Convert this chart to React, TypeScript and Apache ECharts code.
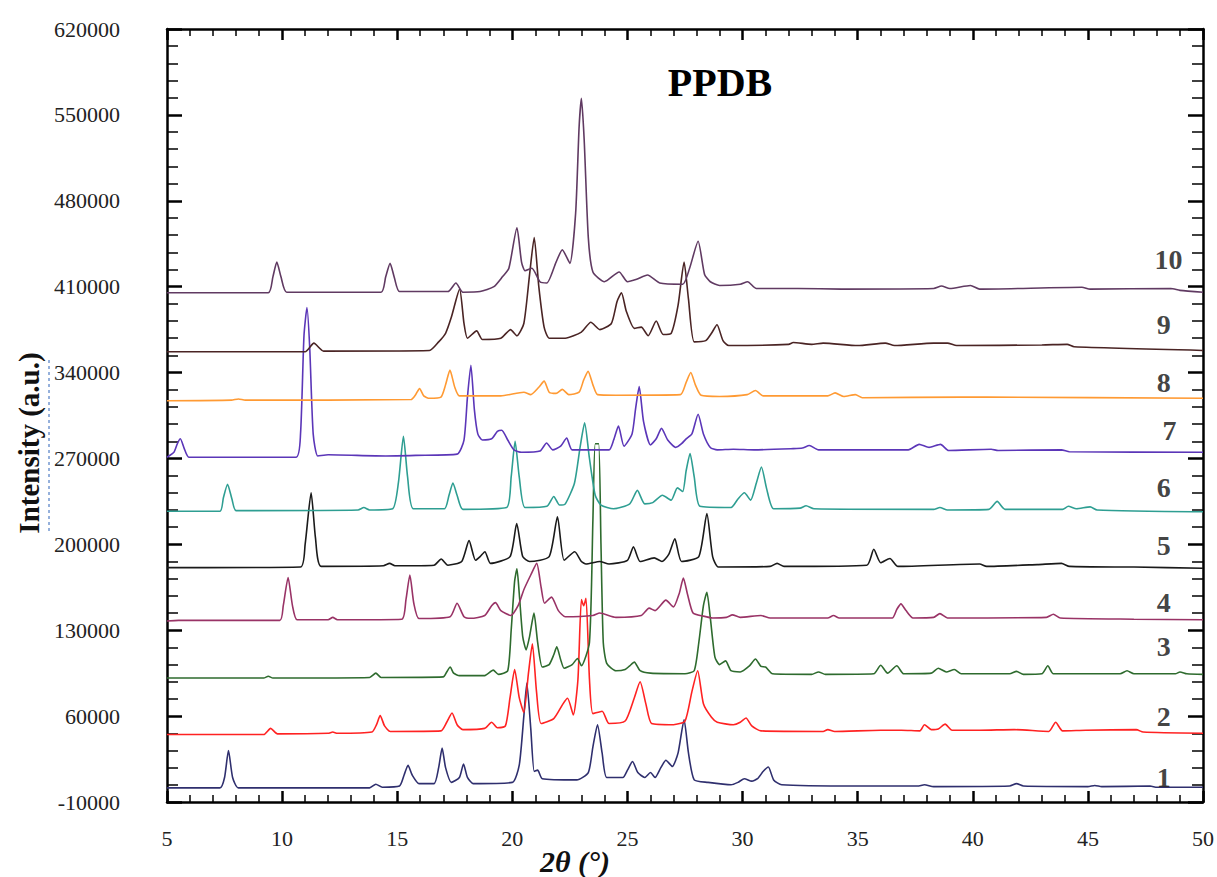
import React, { useEffect, useRef } from "react";
import * as echarts from "echarts";

// 2θ (°), intensity (a.u.) pairs
const pattern1: [number, number][] = [
  [5, 1500], [7.3, 1500], [7.5, 10000], [7.67, 32000], [7.85, 10000], [8.1, 1500],
  [13.8, 1500], [14.07, 4500], [14.35, 2000],
  [15.1, 3000], [15.3, 12000], [15.47, 20000], [15.65, 12000], [15.95, 5000],
  [16.6, 5000], [16.8, 18000], [16.95, 34000], [17.1, 18000], [17.35, 6000], [17.7, 10000], [17.88, 21000], [18.05, 10000], [18.3, 5000],
  [20.0, 6000], [20.3, 20000], [20.5, 60000], [20.63, 87000], [20.8, 50000], [20.95, 15000], [21.1, 16000], [21.3, 9000],
  [22.8, 8000], [23.3, 14000], [23.5, 35000], [23.7, 53000], [23.9, 30000], [24.1, 10000],
  [24.8, 10000], [25.0, 16000], [25.22, 23000], [25.45, 14000], [25.75, 10000], [26.0, 14000], [26.2, 10000], [26.45, 18000], [26.67, 24000], [26.95, 19000], [27.2, 30000], [27.46, 57000], [27.65, 30000], [27.9, 8000],
  [28.5, 6000], [29.5, 4000], [29.8, 6000], [30.08, 9000], [30.4, 7000], [30.65, 9000], [30.9, 15000], [31.12, 18500], [31.35, 8000], [31.7, 4000],
  [35, 3000], [37.6, 3000], [37.9, 4000], [38.3, 2500], [41.6, 3000], [41.9, 5000], [42.2, 3000], [45.0, 2500], [45.3, 3500], [45.6, 2500], [47.7, 3000], [48.0, 2000], [50, 2000],
];

const pattern2: [number, number][] = [
  [5, 45000], [9.2, 45000], [9.5, 50000], [9.8, 45500], [12.0, 46000], [12.2, 47000], [12.4, 46000],
  [13.9, 47000], [14.1, 53000], [14.26, 60500], [14.45, 52000], [14.7, 47500],
  [16.9, 48000], [17.15, 55000], [17.38, 62500], [17.6, 53000], [17.85, 49000],
  [18.8, 50000], [19.1, 55000], [19.35, 50500],
  [19.7, 52000], [19.9, 75000], [20.1, 98000], [20.3, 75000], [20.5, 63000], [20.7, 95000], [20.87, 119000], [21.05, 80000], [21.25, 54000],
  [21.8, 58000], [22.2, 70000], [22.4, 74500], [22.65, 61000], [22.85, 90000], [23.0, 155000], [23.1, 150000], [23.2, 156000], [23.35, 90000], [23.5, 62000], [23.9, 64000], [24.2, 54000],
  [24.9, 56000], [25.3, 75000], [25.55, 88000], [25.8, 70000], [26.05, 54000],
  [27.0, 53000], [27.5, 56000], [27.8, 80000], [28.05, 97000], [28.3, 70000], [28.65, 59000], [28.9, 55000], [29.6, 53000], [29.9, 55000], [30.15, 58500], [30.4, 52000], [30.8, 48000],
  [33.5, 47500], [33.7, 49000], [34.0, 47500], [36.0, 48500], [36.9, 48500], [37.7, 48000], [37.9, 53000], [38.2, 49000], [38.5, 49500], [38.8, 53500], [39.1, 48500], [40.3, 48500], [41.8, 49000], [43.3, 47500], [43.6, 55000], [43.9, 48000], [44.9, 48500], [47.1, 49000], [47.4, 47000], [50, 46000],
];

const pattern3: [number, number][] = [
  [5, 91000], [9.2, 91000], [9.4, 92500], [9.6, 91000], [13.8, 91500], [14.07, 95000], [14.3, 91500],
  [17.0, 92000], [17.15, 96000], [17.3, 100000], [17.45, 95000], [17.7, 93000], [18.8, 93000], [19.17, 97500], [19.4, 94000],
  [19.8, 97000], [19.95, 130000], [20.1, 170000], [20.2, 180000], [20.3, 160000], [20.45, 125000], [20.6, 114000], [20.75, 125000], [20.94, 144000], [21.1, 120000], [21.3, 100000], [21.6, 102000], [21.8, 110000], [21.93, 116500], [22.1, 106000], [22.25, 99000], [22.6, 102000], [22.83, 107000], [23.0, 101000],
  [23.35, 120000], [23.5, 220000], [23.6, 282000], [23.75, 282000], [23.85, 200000], [23.95, 120000], [24.1, 103000], [24.5, 97000], [24.9, 98000], [25.1, 101000], [25.3, 104000], [25.55, 97000], [26, 95000], [27.5, 94500], [27.9, 97000], [28.1, 120000], [28.3, 150000], [28.45, 161000], [28.6, 140000], [28.8, 108000], [29.0, 102000], [29.26, 105000], [29.5, 97000], [29.9, 96000], [30.3, 101000], [30.56, 106500], [30.8, 100500], [31.0, 100000], [31.3, 94500],
  [33.0, 94000], [33.3, 96000], [33.6, 94000], [35.7, 94500], [36.0, 101500], [36.3, 95000], [36.7, 101000], [37.0, 94500], [38.2, 95000], [38.5, 99000], [38.85, 96000], [39.2, 98000], [39.5, 94500], [41.6, 94500], [41.9, 96500], [42.2, 94000], [43.0, 94500], [43.26, 101000], [43.5, 94500], [46.4, 94500], [46.7, 97000], [47.0, 94500], [48.8, 94500], [49.0, 96000], [49.3, 94500], [50, 94000],
];

const pattern4: [number, number][] = [
  [5, 137500], [5.5, 138000], [9.9, 138000], [10.05, 150000], [10.26, 173000], [10.45, 150000], [10.65, 138500], [12.0, 138500], [12.2, 140500], [12.4, 138500],
  [15.2, 139000], [15.38, 155000], [15.55, 175000], [15.72, 152000], [15.95, 139500],
  [17.3, 141000], [17.6, 152000], [17.9, 141000], [18.2, 139700], [18.8, 142000], [19.1, 150000], [19.27, 152500], [19.5, 146000], [19.93, 142000], [20.25, 150000], [20.5, 163000], [20.8, 175000], [21.06, 184500], [21.25, 165000], [21.4, 152000], [21.7, 157000], [22.0, 146000], [22.3, 141000], [23.5, 142000], [23.8, 144000], [24.5, 140500], [25.6, 142000], [25.94, 148000], [26.2, 146000], [26.67, 154500], [27.0, 149000], [27.25, 160000], [27.43, 172500], [27.6, 160000], [27.85, 144000], [28.3, 141500], [28.7, 140000], [29.3, 140500], [29.56, 142500], [29.9, 140500], [30.8, 142000], [31.2, 140000],
  [33.7, 140000], [33.95, 142000], [34.2, 140000], [36.5, 140000], [36.7, 147000], [36.88, 151500], [37.1, 146000], [37.4, 140000], [38.3, 140500], [38.57, 143500], [38.9, 140000], [43.2, 140500], [43.5, 143000], [43.8, 140000], [47, 139000], [50, 138500],
];

const pattern5: [number, number][] = [
  [5, 181000], [10.8, 181500], [11.0, 200000], [11.26, 242000], [11.45, 205000], [11.7, 182000], [14.4, 182500], [14.67, 184500], [14.9, 182500], [16.6, 183000], [16.91, 188000], [17.2, 183000], [17.8, 186000], [18.12, 203000], [18.4, 187000], [18.6, 190000], [18.81, 194000], [19.05, 184500], [19.9, 190000], [20.19, 217000], [20.45, 190000], [20.75, 186000], [21.6, 190000], [21.96, 222500], [22.25, 187000], [22.71, 194000], [23.0, 186000], [23.2, 184000], [23.8, 186000], [24.2, 184000], [25.0, 187000], [25.26, 198000], [25.55, 186000], [26.16, 189000], [26.5, 186000], [26.8, 192000], [27.06, 204500], [27.35, 186000], [28.1, 190000], [28.45, 225000], [28.7, 190000], [28.95, 181500], [31.2, 182000], [31.5, 184500], [31.8, 182000], [35.4, 183000], [35.7, 196000], [36.0, 185000], [36.4, 188500], [36.75, 182000], [40.3, 184000], [40.6, 182000], [42.8, 183500], [43.85, 184500], [44.2, 182000], [47, 181500], [50, 180500],
];

const pattern6: [number, number][] = [
  [5, 227000], [7.3, 227000], [7.45, 238000], [7.63, 249000], [7.82, 237000], [8.0, 227500], [13.3, 228000], [13.55, 230000], [13.8, 228000], [14.8, 229000], [15.05, 250000], [15.27, 288000], [15.45, 255000], [15.7, 229000], [17.05, 229000], [17.25, 240000], [17.42, 250000], [17.6, 240000], [17.85, 228500], [19.75, 230000], [19.95, 255000], [20.12, 284000], [20.3, 255000], [20.55, 230000], [21.5, 231000], [21.8, 239000], [22.05, 232000], [22.3, 233000], [22.7, 250000], [22.95, 280000], [23.14, 299000], [23.35, 270000], [23.6, 240000], [23.85, 232000], [24.4, 229000], [25.1, 233000], [25.43, 244000], [25.75, 233000], [26.1, 234000], [26.52, 240000], [26.9, 236000], [27.17, 246000], [27.4, 243000], [27.55, 260000], [27.72, 274000], [27.9, 255000], [28.15, 231000], [29.5, 230000], [29.8, 237000], [30.08, 242000], [30.35, 236000], [30.6, 250000], [30.82, 263000], [31.05, 245000], [31.35, 229000], [32.5, 229500], [32.76, 231500], [33.1, 229000], [38.3, 228500], [38.57, 230000], [38.9, 228000], [40.7, 228500], [41.06, 235000], [41.4, 228500], [43.9, 228500], [44.15, 231000], [44.5, 229000], [45.1, 230500], [45.4, 228000], [50, 226500],
];

const pattern7: [number, number][] = [
  [5, 271000], [5.3, 275000], [5.45, 282000], [5.58, 286000], [5.75, 278000], [5.95, 271000], [10.6, 271000], [10.8, 290000], [10.95, 370000], [11.08, 393000], [11.2, 360000], [11.35, 290000], [11.55, 272000], [12.0, 273000], [14.5, 272000], [15.8, 272500], [17.6, 273500], [17.9, 285000], [18.05, 320000], [18.2, 346000], [18.35, 310000], [18.5, 290000], [18.7, 285000], [19.1, 286000], [19.35, 292000], [19.54, 293000], [19.8, 285000], [20.07, 277000], [20.4, 275000], [21.2, 276000], [21.49, 282600], [21.75, 277000], [22.1, 280000], [22.36, 286700], [22.6, 277000], [24.2, 277000], [24.4, 285000], [24.61, 296400], [24.85, 280000], [25.2, 290000], [25.35, 310000], [25.51, 328500], [25.7, 300000], [26.0, 281000], [26.25, 286000], [26.48, 294500], [26.75, 285000], [27.1, 279000], [27.35, 282000], [27.55, 286000], [27.8, 290000], [28.07, 306000], [28.3, 290000], [28.6, 279000], [28.9, 277000], [29.6, 277500], [30.5, 277000], [32.2, 278000], [32.6, 278500], [32.9, 280500], [33.3, 277000], [37.2, 277000], [37.67, 281500], [38.1, 279000], [38.6, 281500], [38.95, 276500], [40.8, 277500], [41.1, 276500], [43.85, 277000], [44.2, 275500], [50, 275000],
];

const pattern8: [number, number][] = [
  [5, 317000], [7.8, 317500], [8.1, 318500], [8.4, 317500], [15.6, 318000], [15.8, 322000], [15.97, 327000], [16.15, 321000], [16.4, 319000], [16.9, 320000], [17.1, 330000], [17.29, 342000], [17.5, 328000], [17.7, 321000], [19.5, 321000], [20.5, 324000], [20.8, 322000], [21.15, 328000], [21.38, 333000], [21.6, 324000], [21.9, 323000], [22.17, 326300], [22.45, 322000], [22.9, 324000], [23.1, 334000], [23.29, 341000], [23.5, 330000], [23.7, 322000], [24.5, 321500], [27.3, 322000], [27.55, 332000], [27.75, 340000], [27.95, 330000], [28.2, 321500], [29.0, 320500], [30.2, 322000], [30.56, 325400], [30.9, 321000], [33.7, 321000], [34.02, 323400], [34.4, 320500], [34.9, 322000], [35.2, 319500], [39.5, 320000], [40.6, 320000], [50, 319000],
];

const pattern9: [number, number][] = [
  [5, 357000], [11.0, 357000], [11.38, 364000], [11.8, 357500], [16.4, 358000], [16.8, 365000], [17.1, 372000], [17.35, 385000], [17.71, 408000], [17.9, 380000], [18.05, 368000], [18.45, 374000], [18.7, 367000], [19.5, 368000], [19.92, 375000], [20.2, 370000], [20.5, 380000], [20.75, 420000], [20.95, 450000], [21.15, 410000], [21.38, 377000], [21.6, 368000], [22.3, 368000], [23.0, 373000], [23.41, 381000], [23.8, 375000], [24.3, 380000], [24.55, 398000], [24.74, 405000], [24.95, 390000], [25.3, 376000], [25.6, 377000], [25.9, 370000], [26.25, 382000], [26.55, 371000], [26.9, 372000], [27.2, 395000], [27.46, 430000], [27.65, 400000], [27.9, 365000], [28.4, 366000], [28.65, 372000], [28.89, 379000], [29.15, 366000], [29.4, 362000], [32.0, 363000], [32.2, 364500], [33.0, 363000], [33.5, 364000], [35.0, 362000], [36.2, 364000], [36.6, 362000], [38.3, 364000], [38.9, 364000], [39.3, 362000], [43.0, 362500], [44.1, 363000], [44.4, 361000], [50, 358000],
];

const pattern10: [number, number][] = [
  [5, 405000], [9.4, 405000], [9.6, 418000], [9.77, 430000], [9.95, 418000], [10.2, 405500], [14.3, 405500], [14.5, 418000], [14.69, 429000], [14.88, 417000], [15.1, 406000], [17.2, 406000], [17.55, 413000], [17.85, 405500], [18.6, 406000], [19.2, 410000], [19.57, 418000], [19.85, 425000], [20.2, 458000], [20.4, 430000], [20.55, 423000], [20.85, 425000], [21.2, 414000], [21.5, 413000], [21.9, 430000], [22.17, 440000], [22.5, 429000], [22.75, 470000], [22.9, 540000], [23.0, 563500], [23.12, 530000], [23.3, 450000], [23.5, 422000], [24.0, 414000], [24.64, 422000], [25.0, 414000], [25.4, 416000], [25.87, 419500], [26.4, 413000], [27.4, 412000], [27.7, 425000], [28.07, 447000], [28.35, 420000], [28.6, 414000], [29.0, 411000], [29.9, 412000], [30.22, 414000], [30.6, 408500], [32.4, 408500], [34.3, 408000], [38.3, 408500], [38.64, 410500], [39.0, 408500], [39.9, 411000], [40.3, 408000], [44.74, 409500], [45.1, 408000], [48.6, 408500], [49.0, 407000], [50, 405500],
];

const sampleNames = ["1", "2", "3", "4", "5", "6", "7", "8", "9", "10"];
const patterns = [pattern1, pattern2, pattern3, pattern4, pattern5, pattern6, pattern7, pattern8, pattern9, pattern10];
const colors = ["#2f2f6e", "#ff2222", "#2e6b2e", "#993366", "#1a1a1a", "#2e9e92", "#5b36b8", "#ff9a33", "#4a2424", "#603a62"];

// sample number labels: [2θ, intensity]
const labelX = [48.3, 48.3, 48.3, 48.3, 48.3, 48.3, 48.55, 48.3, 48.3, 48.5];
const labelY = [10000, 60000, 117000, 153000, 199000, 246000, 293000, 332000, 379000, 432000];

const xTicks = { min: 5, max: 50, interval: 5 };
const yTicks = { min: -10000, max: 620000, interval: 70000 };

const chartTitle = "PPDB";
const xTitle = "2θ (°)";
const yTitle = "Intensity (a.u.)";

const SERIF = "'Liberation Serif', 'Times New Roman', serif";

export default function App() {
  const ref = useRef<HTMLDivElement>(null);
  useEffect(() => {
    if (!ref.current) return;
    const chart = echarts.init(ref.current, undefined, { renderer: "svg" });
    const axisLine = { show: true, onZero: false, lineStyle: { color: "#000", width: 2.5 } };
    const xCommon = {
      type: "value" as const,
      min: xTicks.min,
      max: xTicks.max,
      interval: xTicks.interval,
      axisLine,
      axisTick: { show: true, inside: true, length: 11, lineStyle: { color: "#000", width: 2.5 } },
      minorTick: { show: true, splitNumber: 5, length: 7, lineStyle: { color: "#000", width: 1.5 } },
      splitLine: { show: false },
      minorSplitLine: { show: false },
    };
    const yCommon = {
      type: "value" as const,
      min: yTicks.min,
      max: yTicks.max,
      interval: yTicks.interval,
      axisLine,
      axisTick: { show: true, inside: true, length: 15, lineStyle: { color: "#000", width: 2.5 } },
      minorTick: { show: true, splitNumber: 5, length: 11, lineStyle: { color: "#000", width: 1.5 } },
      splitLine: { show: false },
      minorSplitLine: { show: false },
    };
    const series: any[] = patterns.map((p, i) => ({
      name: sampleNames[i],
      type: "line",
      data: p,
      showSymbol: false,
      symbol: "none",
      smooth: 0.2,
      lineStyle: { color: colors[i], width: 1.6 },
      z: 2 + i,
    }));
    series.push({
      type: "scatter",
      symbolSize: 0,
      data: sampleNames.map((n, i) => [labelX[i], labelY[i], n]),
      label: {
        show: true,
        position: "inside",
        formatter: (p: any) => p.data[2],
        fontFamily: SERIF,
        fontWeight: "bold",
        fontSize: 28,
        color: "#111",
      },
      z: 20,
    });
    chart.setOption({
      animation: false,
      backgroundColor: "#fff",
      grid: { left: 167, right: 11, top: 29, bottom: 75, containLabel: false },
      xAxis: [
        {
          ...xCommon,
          position: "bottom",
          axisLabel: { show: true, fontFamily: SERIF, fontSize: 22, color: "#222", margin: 25 },
        },
        { ...xCommon, position: "top", axisLabel: { show: false } },
      ],
      yAxis: [
        {
          ...yCommon,
          position: "left",
          axisLabel: { show: true, fontFamily: SERIF, fontSize: 22, color: "#222", margin: 47, formatter: (v: number) => String(v) },
        },
        { ...yCommon, position: "right", axisLabel: { show: false } },
      ],
      title: {
        text: chartTitle,
        left: 715,
        top: 57,
        textAlign: "center",
        textStyle: { fontFamily: SERIF, fontSize: 40, fontWeight: "bold", color: "#000" },
      },
      graphic: [
        {
          type: "line",
          shape: { x1: 49, y1: 360, x2: 49, y2: 532 },
          style: { stroke: "#2d62b8", lineWidth: 1, lineDash: [3, 3] },
        },
        {
          type: "text",
          x: 29,
          y: 443,
          rotation: Math.PI / 2,
          style: {
            text: yTitle,
            fontFamily: SERIF,
            fontSize: 29,
            fontWeight: "bold",
            fill: "#111",
            align: "center",
            verticalAlign: "middle",
            textAlign: "center",
            textVerticalAlign: "middle",
          },
        },
        {
          type: "text",
          x: 575,
          y: 861,
          style: {
            text: xTitle,
            fontFamily: SERIF,
            fontSize: 30,
            fontWeight: "bold",
            fontStyle: "italic",
            fill: "#111",
            align: "center",
            verticalAlign: "middle",
            textAlign: "center",
            textVerticalAlign: "middle",
          },
        },
      ],
      series,
    });
    return () => chart.dispose();
  }, []);
  return <div ref={ref} style={{ position: "fixed", left: 0, top: 0, width: 1217, height: 877 }} />;
}
